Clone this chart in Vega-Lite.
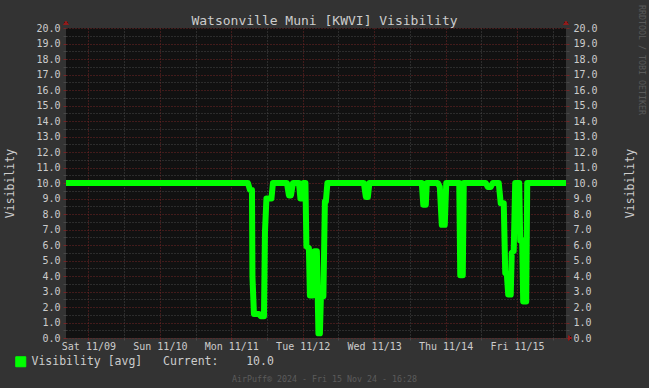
{
  "$schema": "https://vega.github.io/schema/vega-lite/v6.json",
  "width": 500,
  "height": 310,
  "autosize": {"type": "none"},
  "padding": {"left": 66, "top": 28, "right": 83, "bottom": 50},
  "background": "#333333",
  "title": {
    "text": "RRDTOOL / TOBI OETIKER",
    "orient": "right",
    "anchor": "start",
    "frame": "group",
    "offset": 2,
    "dx": -23,
    "font": "DejaVu Sans Mono",
    "fontSize": 8.3,
    "fontWeight": "normal",
    "color": "#5a5a5a"
  },
  "config": {
    "view": {"fill": "#111111", "stroke": null},
    "font": "DejaVu Sans Mono"
  },
  "data": {
    "values": [
      {"time": "2024-11-08T16:28:00Z", "vis": 10, "series": "Visibility [avg]"},
      {"time": "2024-11-11T05:36:00Z", "vis": 10, "series": "Visibility [avg]"},
      {"time": "2024-11-11T06:17:00Z", "vis": 9.55, "series": "Visibility [avg]"},
      {"time": "2024-11-11T06:57:00Z", "vis": 9.55, "series": "Visibility [avg]"},
      {"time": "2024-11-11T07:07:00Z", "vis": 3.95, "series": "Visibility [avg]"},
      {"time": "2024-11-11T07:37:00Z", "vis": 1.55, "series": "Visibility [avg]"},
      {"time": "2024-11-11T09:18:00Z", "vis": 1.55, "series": "Visibility [avg]"},
      {"time": "2024-11-11T09:58:00Z", "vis": 1.4, "series": "Visibility [avg]"},
      {"time": "2024-11-11T10:59:00Z", "vis": 1.4, "series": "Visibility [avg]"},
      {"time": "2024-11-11T11:19:00Z", "vis": 6.85, "series": "Visibility [avg]"},
      {"time": "2024-11-11T11:49:00Z", "vis": 9.0, "series": "Visibility [avg]"},
      {"time": "2024-11-11T13:30:00Z", "vis": 9.0, "series": "Visibility [avg]"},
      {"time": "2024-11-11T14:00:00Z", "vis": 10, "series": "Visibility [avg]"},
      {"time": "2024-11-11T18:42:00Z", "vis": 10, "series": "Visibility [avg]"},
      {"time": "2024-11-11T19:22:00Z", "vis": 9.2, "series": "Visibility [avg]"},
      {"time": "2024-11-11T20:03:00Z", "vis": 9.2, "series": "Visibility [avg]"},
      {"time": "2024-11-11T20:43:00Z", "vis": 10, "series": "Visibility [avg]"},
      {"time": "2024-11-11T22:44:00Z", "vis": 10, "series": "Visibility [avg]"},
      {"time": "2024-11-11T23:14:00Z", "vis": 9.0, "series": "Visibility [avg]"},
      {"time": "2024-11-11T23:44:00Z", "vis": 9.0, "series": "Visibility [avg]"},
      {"time": "2024-11-12T00:14:00Z", "vis": 10, "series": "Visibility [avg]"},
      {"time": "2024-11-12T00:55:00Z", "vis": 10, "series": "Visibility [avg]"},
      {"time": "2024-11-12T01:15:00Z", "vis": 5.9, "series": "Visibility [avg]"},
      {"time": "2024-11-12T02:05:00Z", "vis": 5.8, "series": "Visibility [avg]"},
      {"time": "2024-11-12T02:25:00Z", "vis": 2.75, "series": "Visibility [avg]"},
      {"time": "2024-11-12T03:26:00Z", "vis": 2.75, "series": "Visibility [avg]"},
      {"time": "2024-11-12T03:56:00Z", "vis": 5.6, "series": "Visibility [avg]"},
      {"time": "2024-11-12T04:46:00Z", "vis": 5.6, "series": "Visibility [avg]"},
      {"time": "2024-11-12T05:17:00Z", "vis": 0.3, "series": "Visibility [avg]"},
      {"time": "2024-11-12T05:47:00Z", "vis": 0.3, "series": "Visibility [avg]"},
      {"time": "2024-11-12T06:07:00Z", "vis": 2.7, "series": "Visibility [avg]"},
      {"time": "2024-11-12T06:57:00Z", "vis": 2.7, "series": "Visibility [avg]"},
      {"time": "2024-11-12T07:27:00Z", "vis": 8.8, "series": "Visibility [avg]"},
      {"time": "2024-11-12T07:47:00Z", "vis": 8.8, "series": "Visibility [avg]"},
      {"time": "2024-11-12T08:18:00Z", "vis": 10, "series": "Visibility [avg]"},
      {"time": "2024-11-12T20:33:00Z", "vis": 10, "series": "Visibility [avg]"},
      {"time": "2024-11-12T21:13:00Z", "vis": 9.1, "series": "Visibility [avg]"},
      {"time": "2024-11-12T21:54:00Z", "vis": 9.1, "series": "Visibility [avg]"},
      {"time": "2024-11-12T22:24:00Z", "vis": 10, "series": "Visibility [avg]"},
      {"time": "2024-11-13T16:01:00Z", "vis": 10, "series": "Visibility [avg]"},
      {"time": "2024-11-13T16:31:00Z", "vis": 8.6, "series": "Visibility [avg]"},
      {"time": "2024-11-13T17:22:00Z", "vis": 8.6, "series": "Visibility [avg]"},
      {"time": "2024-11-13T17:42:00Z", "vis": 10, "series": "Visibility [avg]"},
      {"time": "2024-11-13T21:23:00Z", "vis": 10, "series": "Visibility [avg]"},
      {"time": "2024-11-13T22:04:00Z", "vis": 9.75, "series": "Visibility [avg]"},
      {"time": "2024-11-13T22:44:00Z", "vis": 7.3, "series": "Visibility [avg]"},
      {"time": "2024-11-13T23:44:00Z", "vis": 7.3, "series": "Visibility [avg]"},
      {"time": "2024-11-14T00:14:00Z", "vis": 10, "series": "Visibility [avg]"},
      {"time": "2024-11-14T04:36:00Z", "vis": 10, "series": "Visibility [avg]"},
      {"time": "2024-11-14T04:56:00Z", "vis": 4.05, "series": "Visibility [avg]"},
      {"time": "2024-11-14T05:47:00Z", "vis": 4.05, "series": "Visibility [avg]"},
      {"time": "2024-11-14T06:07:00Z", "vis": 10, "series": "Visibility [avg]"},
      {"time": "2024-11-14T13:30:00Z", "vis": 10, "series": "Visibility [avg]"},
      {"time": "2024-11-14T14:10:00Z", "vis": 9.75, "series": "Visibility [avg]"},
      {"time": "2024-11-14T15:11:00Z", "vis": 9.75, "series": "Visibility [avg]"},
      {"time": "2024-11-14T15:51:00Z", "vis": 10, "series": "Visibility [avg]"},
      {"time": "2024-11-14T17:52:00Z", "vis": 10, "series": "Visibility [avg]"},
      {"time": "2024-11-14T18:32:00Z", "vis": 8.7, "series": "Visibility [avg]"},
      {"time": "2024-11-14T19:33:00Z", "vis": 8.7, "series": "Visibility [avg]"},
      {"time": "2024-11-14T20:03:00Z", "vis": 4.2, "series": "Visibility [avg]"},
      {"time": "2024-11-14T20:33:00Z", "vis": 4.2, "series": "Visibility [avg]"},
      {"time": "2024-11-14T21:03:00Z", "vis": 2.8, "series": "Visibility [avg]"},
      {"time": "2024-11-14T21:54:00Z", "vis": 2.8, "series": "Visibility [avg]"},
      {"time": "2024-11-14T22:14:00Z", "vis": 5.5, "series": "Visibility [avg]"},
      {"time": "2024-11-14T22:54:00Z", "vis": 5.6, "series": "Visibility [avg]"},
      {"time": "2024-11-14T23:24:00Z", "vis": 10, "series": "Visibility [avg]"},
      {"time": "2024-11-15T00:45:00Z", "vis": 10, "series": "Visibility [avg]"},
      {"time": "2024-11-15T01:05:00Z", "vis": 6.3, "series": "Visibility [avg]"},
      {"time": "2024-11-15T01:45:00Z", "vis": 6.3, "series": "Visibility [avg]"},
      {"time": "2024-11-15T02:05:00Z", "vis": 2.35, "series": "Visibility [avg]"},
      {"time": "2024-11-15T03:06:00Z", "vis": 2.35, "series": "Visibility [avg]"},
      {"time": "2024-11-15T03:26:00Z", "vis": 10, "series": "Visibility [avg]"},
      {"time": "2024-11-15T16:28:00Z", "vis": 10, "series": "Visibility [avg]"}
    ]
  },
  "layer": [
    {
      "mark": {"type": "line", "strokeWidth": 6, "strokeJoin": "round", "strokeCap": "butt", "clip": true},
      "encoding": {
        "x": {
          "field": "time",
          "type": "temporal",
          "scale": {"type": "utc", "domain": [1731083280000, 1731688080000], "nice": false},
          "axis": {
            "orient": "bottom",
            "values": [1731110400000, 1731153600000, 1731196800000, 1731240000000, 1731283200000, 1731326400000, 1731369600000, 1731412800000, 1731456000000, 1731499200000, 1731542400000, 1731585600000, 1731628800000, 1731672000000],
            "labelExpr": "utchours(datum.value) == 0 ? utcFormat(datum.value, '%a %m/%d') : ''",
            "labelFont": "DejaVu Sans Mono",
            "labelFontSize": 10,
            "labelColor": "#cccccc",
            "labelOverlap": false,
            "labelFlush": false,
            "labelPadding": 1,
            "tickSize": 2,
            "tickColor": {"condition": {"test": "utchours(datum.value) == 0", "value": "#742626"}, "value": "#484848"},
            "domain": false,
            "grid": true,
            "gridColor": {"condition": {"test": "utchours(datum.value) == 0", "value": "#742626"}, "value": "#484848"},
            "gridDash": [1, 2],
            "gridWidth": 1,
            "title": "AirPuff® 2024 - Fri 15 Nov 24 - 16:28",
            "titleFont": "DejaVu Sans Mono",
            "titleFontSize": 8.3,
            "titleFontWeight": "normal",
            "titleColor": "#5c5c5c",
            "titleX": 258,
            "titleY": 43,
            "titleAlign": "center",
            "titleBaseline": "alphabetic"
          }
        },
        "y": {
          "field": "vis",
          "type": "quantitative",
          "scale": {"domain": [0, 20], "nice": false},
          "axis": {
            "orient": "left",
            "values": [0, 0.5, 1, 1.5, 2, 2.5, 3, 3.5, 4, 4.5, 5, 5.5, 6, 6.5, 7, 7.5, 8, 8.5, 9, 9.5, 10, 10.5, 11, 11.5, 12, 12.5, 13, 13.5, 14, 14.5, 15, 15.5, 16, 16.5, 17, 17.5, 18, 18.5, 19, 19.5, 20],
            "labelExpr": "datum.value % 1 == 0 ? format(datum.value, '.1f') : ''",
            "labelFont": "DejaVu Sans Mono",
            "labelFontSize": 10,
            "labelColor": "#cccccc",
            "labelOverlap": false,
            "labelFlush": false,
            "labelPadding": 3,
            "tickSize": 3,
            "tickColor": {"condition": {"test": "datum.value % 1 == 0", "value": "#742626"}, "value": "#484848"},
            "domain": false,
            "grid": true,
            "gridColor": {"condition": {"test": "datum.value % 1 == 0", "value": "#742626"}, "value": "#484848"},
            "gridDash": [1, 2],
            "title": "Visibility",
            "titleFont": "DejaVu Sans Mono",
            "titleFontSize": 11.5,
            "titleFontWeight": "normal",
            "titleColor": "#cccccc",
            "titleAngle": -90,
            "titleX": -56,
            "titleY": 155,
            "titleAlign": "center",
            "titleBaseline": "middle"
          }
        },
        "color": {
          "field": "series",
          "type": "nominal",
          "scale": {"range": ["#00ff00"]},
          "legend": {
            "orient": "none",
            "legendX": -51,
            "legendY": 328,
            "title": null,
            "padding": 0,
            "symbolType": "square",
            "symbolSize": 100,
            "labelFont": "DejaVu Sans Mono",
            "labelFontSize": 11.5,
            "labelColor": "#cccccc",
            "labelOffset": 5,
            "labelLimit": 500,
            "labelExpr": "datum.label + '\u00a0\u00a0\u00a0Current:\u00a0\u00a0\u00a0\u00a010.0'",
            "encode": {
              "symbols": {
                "update": {
                  "fill": {"value": "#00ff00"},
                  "fillOpacity": {"value": 1},
                  "stroke": {"value": "#000000"},
                  "strokeWidth": {"value": 1},
                  "opacity": {"value": 1}
                }
              }
            }
          }
        }
      }
    },
    {
      "mark": {"type": "line", "opacity": 0},
      "encoding": {
        "x": {
          "field": "time",
          "type": "temporal",
          "axis": {
            "orient": "top",
            "labels": false,
            "ticks": false,
            "domain": false,
            "grid": false,
            "title": "Watsonville Muni [KWVI] Visibility",
            "titleFont": "DejaVu Sans Mono",
            "titleFontSize": 13,
            "titleFontWeight": "normal",
            "titleColor": "#cccccc",
            "titleX": 258,
            "titleY": -4,
            "titleAlign": "center",
            "titleBaseline": "alphabetic"
          }
        },
        "y": {
          "field": "vis",
          "type": "quantitative",
          "axis": {
            "orient": "right",
            "values": [0, 0.5, 1, 1.5, 2, 2.5, 3, 3.5, 4, 4.5, 5, 5.5, 6, 6.5, 7, 7.5, 8, 8.5, 9, 9.5, 10, 10.5, 11, 11.5, 12, 12.5, 13, 13.5, 14, 14.5, 15, 15.5, 16, 16.5, 17, 17.5, 18, 18.5, 19, 19.5, 20],
            "labelExpr": "datum.value % 1 == 0 ? format(datum.value, '.1f') : ''",
            "labelFont": "DejaVu Sans Mono",
            "labelFontSize": 10,
            "labelColor": "#cccccc",
            "labelOverlap": false,
            "labelFlush": false,
            "labelPadding": 4,
            "tickSize": 3,
            "tickColor": {"condition": {"test": "datum.value % 1 == 0", "value": "#742626"}, "value": "#484848"},
            "domain": false,
            "grid": false,
            "title": "Visibility",
            "titleFont": "DejaVu Sans Mono",
            "titleFontSize": 11.5,
            "titleFontWeight": "normal",
            "titleColor": "#cccccc",
            "titleAngle": -90,
            "titleX": 64,
            "titleY": 155,
            "titleAlign": "center",
            "titleBaseline": "middle"
          }
        }
      }
    },
    {
      "mark": {"type": "point", "shape": "triangle-up", "filled": true, "size": 22, "color": "#8e1e1e", "opacity": 1, "yOffset": -5},
      "encoding": {
        "x": {"datum": 1731083280000, "type": "temporal", "axis": null},
        "y": {"datum": 20, "type": "quantitative", "axis": null}
      }
    },
    {
      "mark": {"type": "point", "shape": "triangle-up", "filled": true, "size": 22, "color": "#8e1e1e", "opacity": 1, "yOffset": -5},
      "encoding": {
        "x": {"datum": 1731688080000, "type": "temporal", "axis": null},
        "y": {"datum": 20, "type": "quantitative", "axis": null}
      }
    },
    {
      "mark": {"type": "point", "shape": "triangle-right", "filled": true, "size": 22, "color": "#8e1e1e", "opacity": 1, "xOffset": 4},
      "encoding": {
        "x": {"datum": 1731688080000, "type": "temporal", "axis": null},
        "y": {"datum": 0, "type": "quantitative", "axis": null}
      }
    }
  ],
  "resolve": {"axis": {"x": "independent", "y": "independent"}}
}
